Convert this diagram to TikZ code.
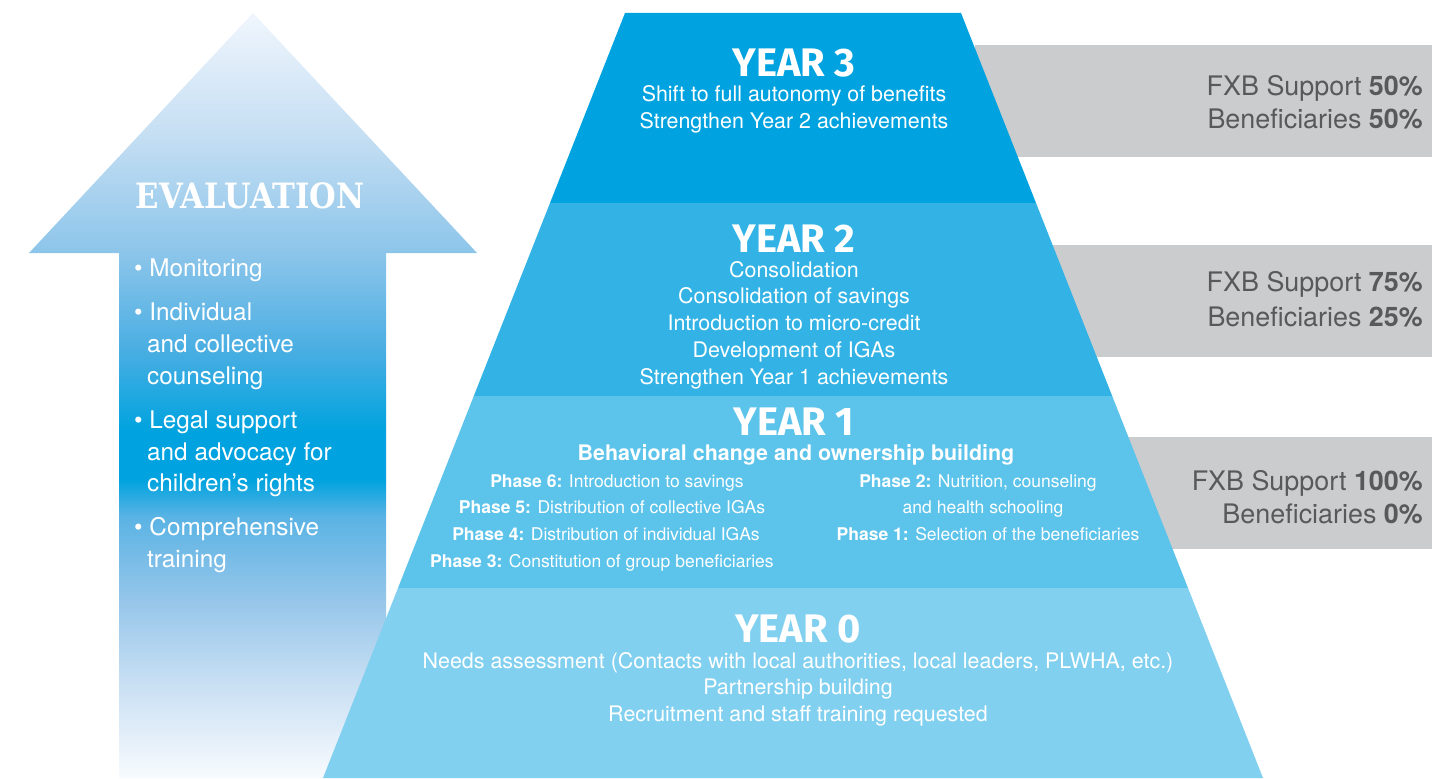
\documentclass[tikz,border=0pt]{standalone}
\usepackage{fontspec}
\setmainfont{TeX Gyre Heros}
\newfontfamily\headfont{Fira Sans}
\newfontfamily\evalfont[FakeStretch=0.88]{DejaVu Serif}
\usepackage{tikz}

\definecolor{yearthree}{HTML}{00A3DF}
\definecolor{yeartwo}{HTML}{33B3E5}
\definecolor{yearone}{HTML}{5CC3EB}
\definecolor{yearzero}{HTML}{82D0F0}
\definecolor{supportgray}{HTML}{CBCCCE}
\definecolor{supporttext}{HTML}{58595B}
\definecolor{evalT}{HTML}{F0F6FD}
\definecolor{evalM}{HTML}{C6DFF3}
\definecolor{evalH}{HTML}{8CC5EA}
\definecolor{evalA}{HTML}{4AAEE2}
\definecolor{evalB}{HTML}{00A3DF}
\definecolor{evalC}{HTML}{5AB3E4}
\definecolor{evalD}{HTML}{96C6EA}
\definecolor{evalE}{HTML}{C8DFF3}
\definecolor{evalF}{HTML}{F8FBFE}

\pgfdeclareverticalshading{evalshade}{100bp}{color(0bp)=(evalF); color(25bp)=(evalF);
  color(31.2bp)=(evalE); color(36.6bp)=(evalD); color(42.1bp)=(evalC); color(44.5bp)=(evalB);
  color(47.7bp)=(evalB); color(53bp)=(evalA); color(59.3bp)=(evalH); color(67.2bp)=(evalM);
  color(75bp)=(evalT); color(100bp)=(evalT)}

\begin{document}
\begin{tikzpicture}[x=1bp, y=-1bp]
        \tikzset{year style/.style={anchor=base, inner sep=0, text=white, font=\headfont\bfseries\fontsize{40}{40}\selectfont}}
        \tikzset{body style/.style={anchor=base, inner sep=0, text=white, font=\fontsize{21.5}{27}\selectfont}}
        \tikzset{phase style/.style={anchor=base, inner sep=0, text=white, font=\fontsize{17.6}{20}\selectfont}}
        \tikzset{share style/.style={anchor=base east, inner sep=0, text=supporttext, font=\fontsize{27}{30}\selectfont}}
        \tikzset{eval style/.style={anchor=base west, inner sep=0, text=white, font=\fontsize{24.4}{30}\selectfont}}

        \useasboundingbox (0,0) rectangle (1447,778);

        % evaluation arrow
        \shade[shading=evalshade] (253,13) -- (477,253) -- (386,253) -- (386,778) -- (119,778)
            -- (119,253) -- (29,253) -- cycle;
        \node[anchor=base, inner sep=0, text=white, font=\evalfont\bfseries\fontsize{35}{35}\selectfont] (evaltitle) at (250,208) {EVALUATION};
        \node[eval style] (monitoring) at (134,276) {\textbullet\ Monitoring};
        \node[eval style] (counsel1) at (134,320) {\textbullet\ Individual};
        \node[eval style] (counsel2) at (147,352) {and collective};
        \node[eval style] (counsel3) at (147,384) {counseling};
        \node[eval style] (legal1) at (134,428) {\textbullet\ Legal support};
        \node[eval style] (legal2) at (147,460) {and advocacy for};
        \node[eval style] (legal3) at (147,491) {children’s rights};
        \node[eval style] (training1) at (134,535) {\textbullet\ Comprehensive};
        \node[eval style] (training2) at (147,567) {training};

        % support boxes behind the pyramid
        \fill[supportgray] (975,45) rectangle (1432,157);
        \fill[supportgray] (975,245) rectangle (1432,357);
        \fill[supportgray] (975,437) rectangle (1432,549);
        \node[share style] (fxb3) at (1423,95) {FXB Support \textbf{50\%}};
        \node[share style] (ben3) at (1423,128) {Beneficiaries \textbf{50\%}};
        \node[share style] (fxb2) at (1423,291) {FXB Support \textbf{75\%}};
        \node[share style] (ben2) at (1423,326) {Beneficiaries \textbf{25\%}};
        \node[share style] (fxb1) at (1423,490) {FXB Support \textbf{100\%}};
        \node[share style] (ben1) at (1423,523) {Beneficiaries \textbf{0\%}};

        % pyramid bands
        \fill[yearthree] (625,13) -- (961,13) -- (1036,203) -- (550,203) -- cycle;
        \fill[yeartwo] (550,203) -- (1036,203) -- (1112.2,396) -- (473.8,396) -- cycle;
        \fill[yearone] (473.8,396) -- (1112.2,396) -- (1188,588) -- (398,588) -- cycle;
        \fill[yearzero] (398,588) -- (1188,588) -- (1263,778) -- (323,778) -- cycle;

        % year 3
        \node[year style] (year3) at (794,76) {YEAR 3};
        \foreach \txt [count=\i from 0] in {Shift to full autonomy of benefits, Strengthen Year 2 achievements}
            \node[body style] (y3line\i) at (794,101+27*\i) {\txt};

        % year 2
        \node[year style] (year2) at (794,252) {YEAR 2};
        \foreach \txt [count=\i from 0] in {Consolidation, Consolidation of savings, Introduction to micro-credit,
            Development of IGAs, Strengthen Year 1 achievements}
            \node[body style] (y2line\i) at (794,277+26.75*\i) {\txt};

        % year 1
        \node[year style] (year1) at (794,435) {YEAR 1};
        \node[body style, font=\bfseries\fontsize{21.5}{24}\selectfont] (behavior) at (796,460) {Behavioral change and ownership building};
        \node[phase style] (phase6) at (617,487) {\textbf{Phase 6:} Introduction to savings};
        \node[phase style] (phase5) at (612,513) {\textbf{Phase 5:} Distribution of collective IGAs};
        \node[phase style] (phase4) at (606,540) {\textbf{Phase 4:} Distribution of individual IGAs};
        \node[phase style] (phase3) at (602,567) {\textbf{Phase 3:} Constitution of group beneficiaries};
        \node[phase style] (phase2) at (978,487) {\textbf{Phase 2:} Nutrition, counseling};
        \node[phase style] (phase2b) at (983,513) {and health schooling};
        \node[phase style] (phase1) at (988,540) {\textbf{Phase 1:} Selection of the beneficiaries};

        % year 0
        \node[year style] (year0) at (798,642) {YEAR 0};
        \foreach \txt [count=\i from 0] in {{Needs assessment (Contacts with local authorities, local leaders, PLWHA, etc.)},
            Partnership building, Recruitment and staff training requested}
            \node[body style] (y0line\i) at (798,668+26.5*\i) {\txt};
    \end{tikzpicture}
\end{document}
